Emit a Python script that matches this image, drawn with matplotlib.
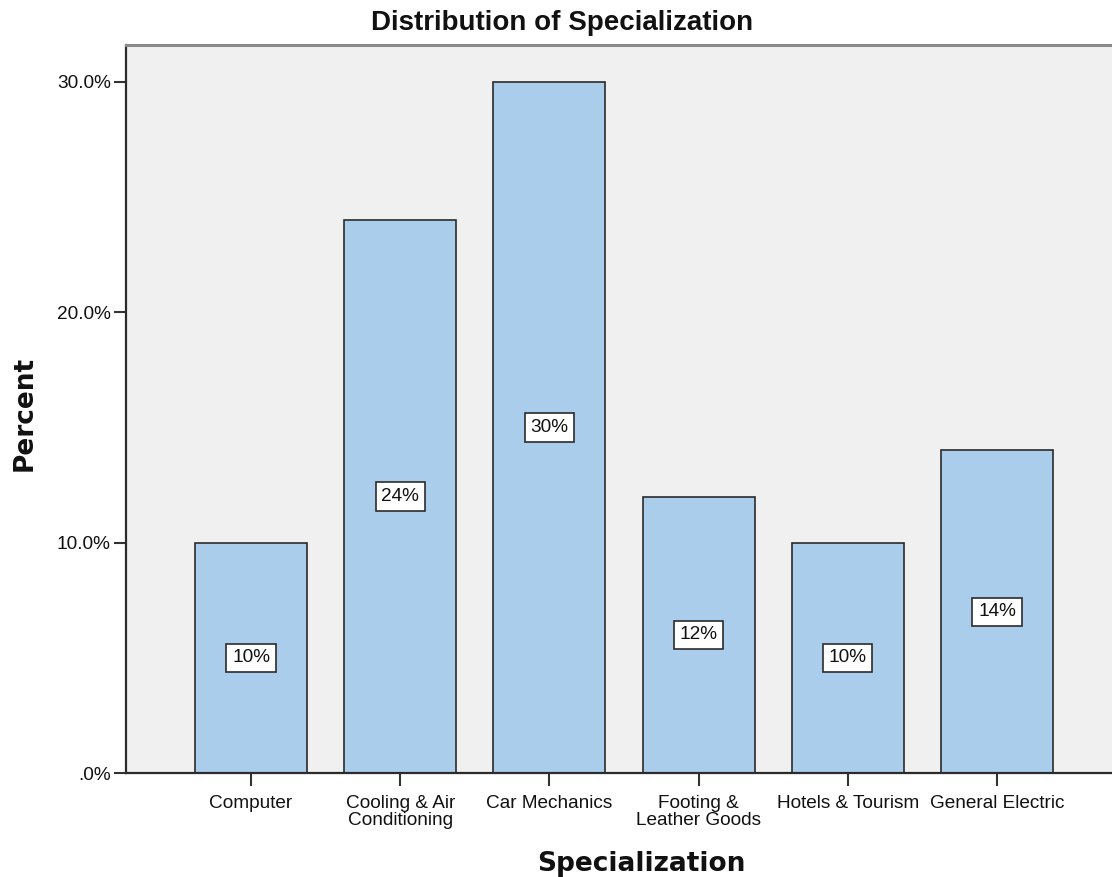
import matplotlib
matplotlib.use("Agg")
import matplotlib.pyplot as plt
import numpy as np
from matplotlib.ticker import FixedLocator

# Data
categories = ["Computer", "Cooling & Air\nConditioning", "Car Mechanics",
              "Footing &\nLeather Goods", "Hotels & Tourism", "General Electric"]
percents = [10, 24, 30, 12, 10, 14]
y_ticks = [0, 10, 20, 30]
y_tick_labels = [".0%", "10.0%", "20.0%", "30.0%"]

W, H = 1112, 877
fig = plt.figure(figsize=(W / 100, H / 100), dpi=100)
fig.patch.set_facecolor("white")

left, right, bottom, top = 126, 1122, 773, 45
ax = fig.add_axes([left / W, (H - bottom) / H, (right - left) / W, (bottom - top) / H])
ax.set_facecolor("#F0F0F0")

tick_font = {"family": ["Liberation Sans", "DejaVu Sans"], "size": 13.7}

x = np.arange(len(categories))
ax.bar(x, percents, width=0.75, color="#AACDEC", edgecolor="#2B2B2B",
       linewidth=1.2, zorder=2)

for xi, v in zip(x, percents):
    ax.text(xi, v / 2, f"{v}%", ha="center", va="center", color="#111111",
            zorder=3, **tick_font,
            bbox=dict(boxstyle="square,pad=0.3", facecolor="white",
                      edgecolor="#2B2B2B", linewidth=1.2))

ax.set_xlim(-0.838, 5.838)
ax.set_ylim(0, 31.6)
ax.yaxis.set_major_locator(FixedLocator(y_ticks))
ax.set_yticklabels(y_tick_labels, **tick_font)
ax.set_xticks(x)
ax.set_xticklabels(categories, linespacing=1.05, **tick_font)

ax.tick_params(axis="both", direction="out", length=9, width=1.5,
               color="#333333", labelcolor="#111111")
ax.tick_params(axis="x", pad=6.5)
ax.tick_params(axis="y", pad=2)

for s in ["left", "bottom"]:
    ax.spines[s].set_color("#2B2B2B")
    ax.spines[s].set_linewidth(1.6)
ax.spines["top"].set_color("#8A8A8A")
ax.spines["top"].set_linewidth(2.2)
ax.spines["right"].set_visible(False)

fig.text(562 / W, (H - 30) / H, "Distribution of Specialization",
         ha="center", va="baseline", fontsize=20, fontweight="bold",
         family=["Liberation Sans", "DejaVu Sans"], color="#111111")
fig.text(641 / W, (H - 871) / H, "Specialization", ha="center", va="baseline",
         fontsize=19, fontweight="bold", family="DejaVu Sans", color="#111111")
fig.text(25 / W, (H - 413.5) / H, "Percent", ha="center", va="center",
         rotation=90, fontsize=19, fontweight="bold", family="DejaVu Sans",
         color="#111111")

fig.savefig("out.png", dpi=100)
